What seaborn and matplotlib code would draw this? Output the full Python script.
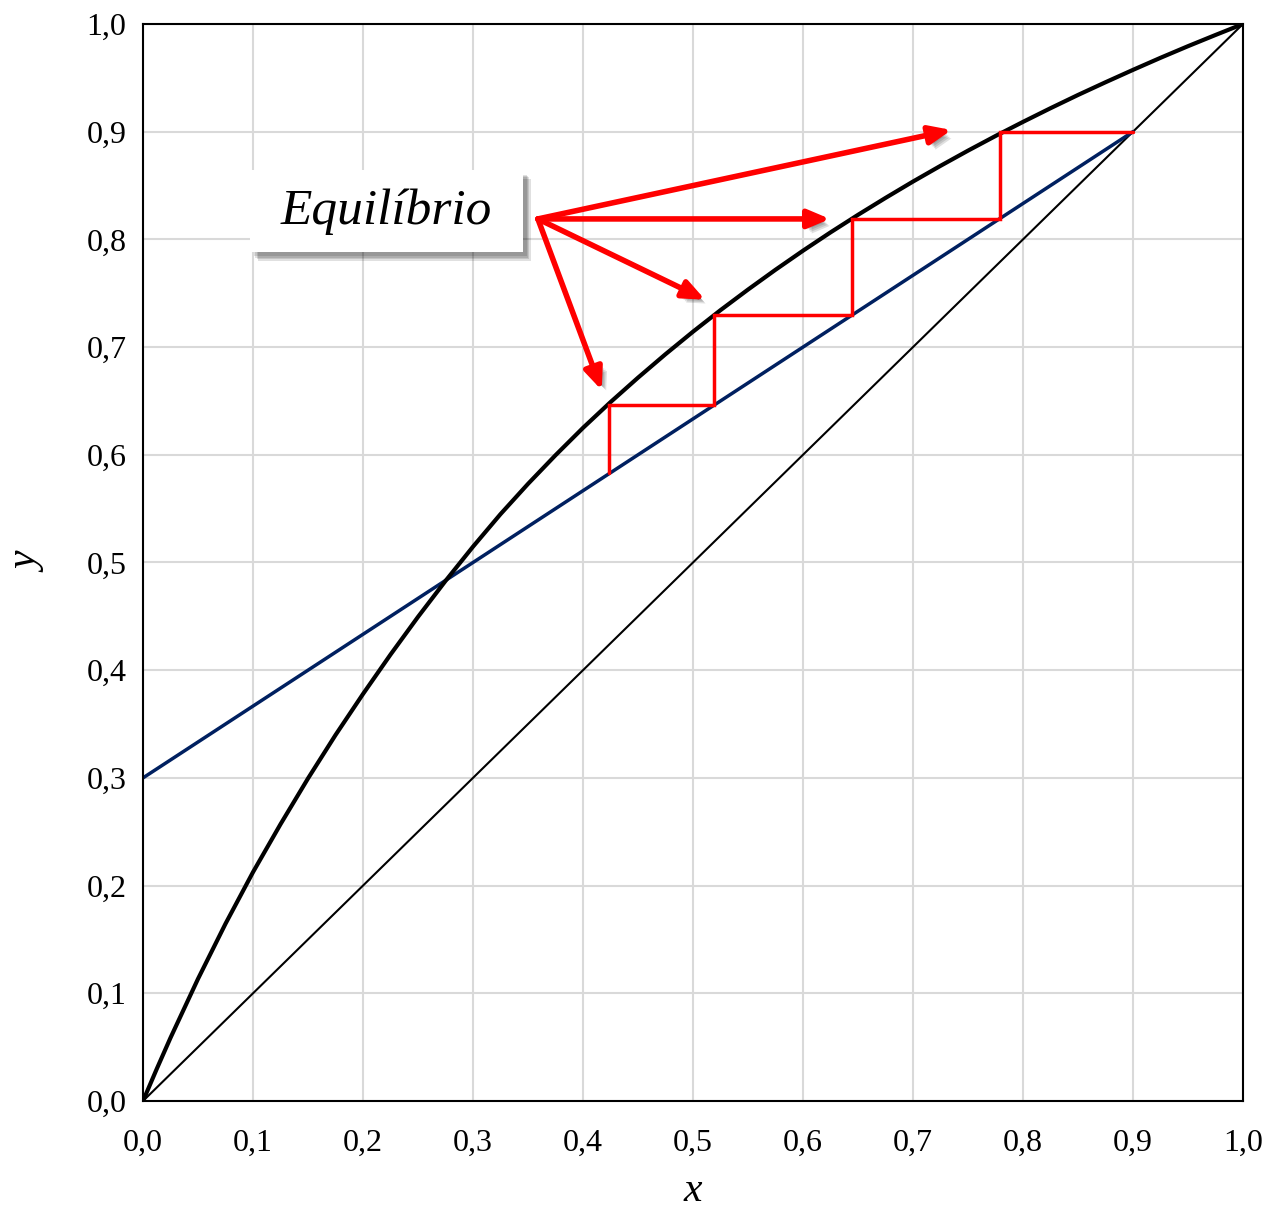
import matplotlib
matplotlib.use("Agg")
import matplotlib.pyplot as plt
import matplotlib.patheffects as pe
from matplotlib.patches import Rectangle
import seaborn as sns

# equilibrium curve
x_eq = [0.0, 0.0125, 0.025, 0.05, 0.075, 0.1, 0.125, 0.15, 0.175, 0.2, 0.225,
        0.25, 0.275, 0.3, 0.325, 0.35, 0.375, 0.4, 0.425, 0.45, 0.475, 0.5,
        0.525, 0.55, 0.575, 0.6, 0.625, 0.65, 0.675, 0.7, 0.725, 0.75,
        0.775, 0.8, 0.825, 0.85, 0.875, 0.9, 0.925, 0.95, 0.975, 1.0]
y_eq = [0.0, 0.0298, 0.0587, 0.1134, 0.1646, 0.2125, 0.2570, 0.2995, 0.3398, 0.3779, 0.4145,
        0.4495, 0.4829, 0.5147, 0.5449, 0.5730, 0.5996, 0.625, 0.6489, 0.6716, 0.6934, 0.7143,
        0.7343, 0.7534, 0.7718, 0.7895, 0.8065, 0.8228, 0.8385, 0.8537, 0.8683, 0.8824,
        0.8960, 0.9091, 0.9218, 0.9341, 0.9459, 0.9574, 0.9686, 0.9794, 0.9898, 1.0]

# operating line and diagonal
x_op = [0.0, 0.9]
y_op = [0.3, 0.9]
x_diag = [0.0, 1.0]
y_diag = [0.0, 1.0]

# stages (McCabe-Thiele steps)
x_steps = [0.9, 0.779, 0.779, 0.645, 0.645, 0.519, 0.519, 0.424, 0.424]
y_steps = [0.9, 0.9, 0.819, 0.819, 0.73, 0.73, 0.646, 0.646, 0.583]

# label arrows
arrow_start = (0.359, 0.819)
arrow_x = [0.735, 0.6245, 0.511, 0.417]
arrow_y = [0.9016, 0.819, 0.744, 0.660]

ticks = [i / 10 for i in range(11)]
tick_labels = [f"{t:.1f}".replace(".", ",") for t in ticks]

sns.set_style("white")
plt.rcParams['font.family'] = ['Liberation Serif', 'DejaVu Serif']
plt.rcParams['text.color'] = 'black'
plt.rcParams['xtick.color'] = 'black'
plt.rcParams['ytick.color'] = 'black'
plt.rcParams['axes.labelcolor'] = 'black'

fig = plt.figure(figsize=(12.69, 12.12), dpi=100)
ax = fig.add_axes([0.1127, 0.0916, 0.8668, 0.8886])

sns.lineplot(x=x_diag, y=y_diag, ax=ax, color="black", linewidth=1.5, sort=False)
sns.lineplot(x=x_op, y=y_op, ax=ax, color="#002060", linewidth=2.5, sort=False)
sns.lineplot(x=x_eq, y=y_eq, ax=ax, color="black", linewidth=3, sort=False)
ax.plot(x_steps, y_steps, color="red", linewidth=2.5, solid_joinstyle="miter")

# soft-ish shadow: a few stacked offsets
def soft_shadow(off):
    return [pe.SimplePatchShadow(offset=(off + d, -off - d), alpha=0.12, shadow_rgbFace="black")
            for d in (0, 1, 2, 3)] + [pe.Normal()]

for ex, ey in zip(arrow_x, arrow_y):
    ann = ax.annotate("", xy=(ex, ey), xytext=arrow_start,
                      arrowprops=dict(arrowstyle="-|>,head_length=1.3,head_width=0.55",
                                      color="red", lw=4, shrinkA=0, shrinkB=0))
    ann.arrow_patch.set_path_effects(soft_shadow(2))

box = Rectangle((0.097, 0.788), 0.248, 0.076, facecolor="white", edgecolor="none",
                transform=ax.transData, zorder=4)
box.set_path_effects(soft_shadow(3))
ax.add_patch(box)
ax.text(0.2215, 0.826, "Equilíbrio", fontsize=37, style="italic",
        ha="center", va="center", zorder=5)

ax.set_xlim(0, 1)
ax.set_ylim(0, 1)
ax.set_xticks(ticks)
ax.set_yticks(ticks)
ax.set_xticklabels(tick_labels, fontsize=23)
ax.set_yticklabels(tick_labels, fontsize=23)
ax.tick_params(axis="x", length=0, pad=20)
ax.tick_params(axis="y", length=0, pad=12)
ax.grid(True, color="#d9d9d9", linewidth=1.5)
ax.set_axisbelow(True)
for s in ax.spines.values():
    s.set_color("black")
    s.set_linewidth(1.5)

ax.set_xlabel("x", fontsize=30, style="italic", labelpad=10)
ax.set_ylabel("y", fontsize=30, style="italic", labelpad=28)

fig.savefig("out.png", dpi=100)
